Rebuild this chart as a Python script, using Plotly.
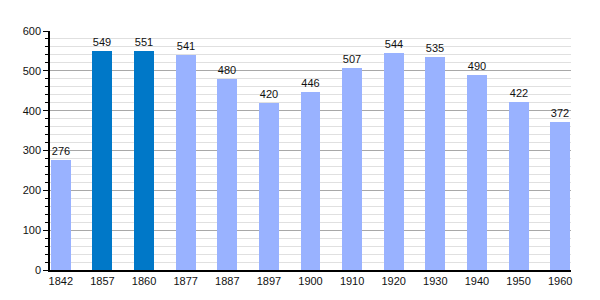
import plotly.graph_objects as go

years = ["1842", "1857", "1860", "1877", "1887", "1897", "1900", "1910", "1920", "1930", "1940", "1950", "1960"]
population = [276, 549, 551, 541, 480, 420, 446, 507, 544, 535, 490, 422, 372]
highlight = [False, True, True, False, False, False, False, False, False, False, False, False, False]

light = "#99b2ff"
dark = "#0078c8"
colors = [dark if h else light for h in highlight]

fig = go.Figure(go.Bar(
    x=years, y=population,
    marker=dict(color=colors, line=dict(width=0)),
    width=0.48,
    text=[str(v) for v in population],
    textposition="outside",
    textfont=dict(family="Liberation Sans, Arial", size=11, color="#111"),
    cliponaxis=False,
))

fig.update_layout(
    width=600, height=300,
    margin=dict(l=50, r=29, t=31, b=30),
    paper_bgcolor="white", plot_bgcolor="white",
    showlegend=False,
    font=dict(family="Liberation Sans, Arial", size=11, color="#111"),
    bargap=0,
)
fig.update_xaxes(
    type="category", range=[-0.26, 12.26],
    showline=True, linecolor="black", linewidth=1.5,
    ticks="", showgrid=False, tickfont=dict(size=11),
)
fig.update_yaxes(
    range=[0, 600], dtick=100,
    showline=True, linecolor="black", linewidth=1.5,
    ticks="outside", ticklen=5, tickcolor="black",
    showgrid=True, gridcolor="#a8a8a8", gridwidth=1,
    minor=dict(dtick=20, showgrid=True, gridcolor="#e0e0e0", gridwidth=1,
               ticks="outside", ticklen=3, tickcolor="black"),
    tickfont=dict(size=11), zeroline=False,
)

fig.write_html("out.html")
